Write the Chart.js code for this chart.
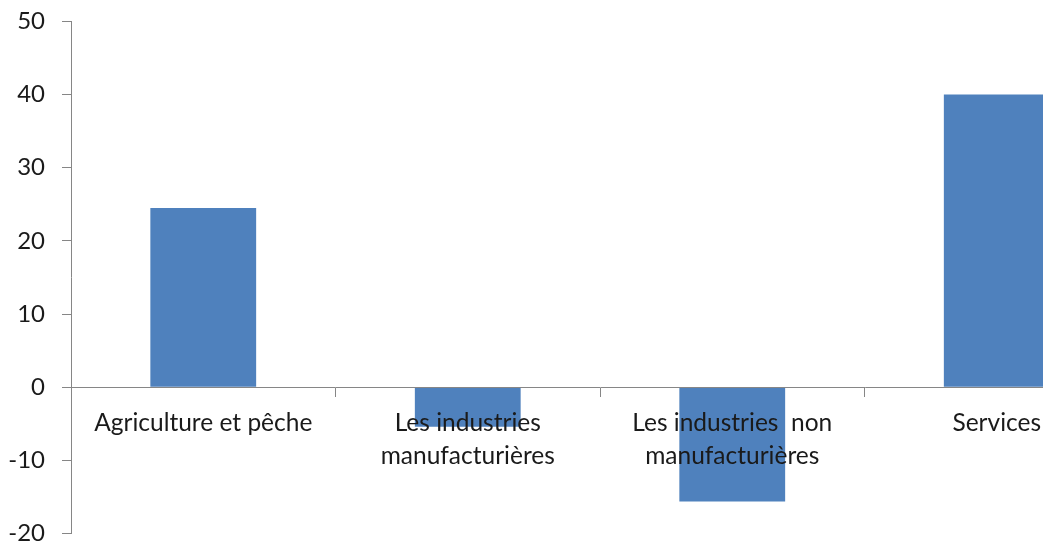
<!DOCTYPE html>
<html>
<head>
<meta charset="utf-8">
<script src="https://cdn.jsdelivr.net/npm/chart.js@4/dist/chart.umd.min.js"></script>
<style>
  html, body { margin: 0; padding: 0; background: #fff; overflow: hidden; }
  #wrap { position: relative; width: 1043px; height: 542px; overflow: hidden; }
  #chart { position: absolute; left: 0; top: -10px; }
</style>
</head>
<body>
<div id="wrap"><canvas id="chart" width="1140" height="575"></canvas></div>
<script>
const categories = [
    'Agriculture et pêche',
    ['Les industries', 'manufacturières'],
    ['Les industries  non', 'manufacturières'],
    'Services'
];
const values = [24.5, -5.4, -15.6, 40];
const yMin = -20;
const yMax = 50;
const yStep = 10;

const axisGrey = '#868686';
const textColor = '#1a1a1a';
const fontFamily = 'Lato, "Open Sans", sans-serif';

new Chart('chart', {
    type: 'bar',
    data: {
        labels: categories,
        datasets: [{
            data: values,
            backgroundColor: '#4F81BD',
            borderWidth: 0,
            barPercentage: 0.4,
            categoryPercentage: 1
        }]
    },
    options: {
        responsive: false,
        animation: false,
        layout: { padding: { top: 13, bottom: 23, left: 0, right: 11 } },
        plugins: {
            legend: { display: false },
            tooltip: { enabled: false }
        },
        scales: {
            x: {
                position: { y: 0 },
                border: { display: true, color: axisGrey, width: 1, z: 1 },
                grid: {
                    offset: true,
                    drawOnChartArea: false,
                    drawTicks: true,
                    tickLength: 9,
                    color: axisGrey
                },
                ticks: {
                    z: 1,
                    autoSkip: false,
                    maxRotation: 0,
                    minRotation: 0,
                    padding: 10,
                    color: textColor,
                    font: { family: fontFamily, size: 24.5, lineHeight: '33px' }
                }
            },
            y: {
                min: yMin,
                max: yMax,
                border: { display: true, color: axisGrey, width: 1 },
                grid: {
                    drawOnChartArea: false,
                    drawTicks: true,
                    tickLength: 9,
                    color: axisGrey
                },
                ticks: {
                    stepSize: yStep,
                    padding: 17,
                    color: textColor,
                    font: { family: fontFamily, size: 24 }
                },
                afterFit: function (scale) { scale.width = 71; }
            }
        }
    }
});
</script>
</body>
</html>
